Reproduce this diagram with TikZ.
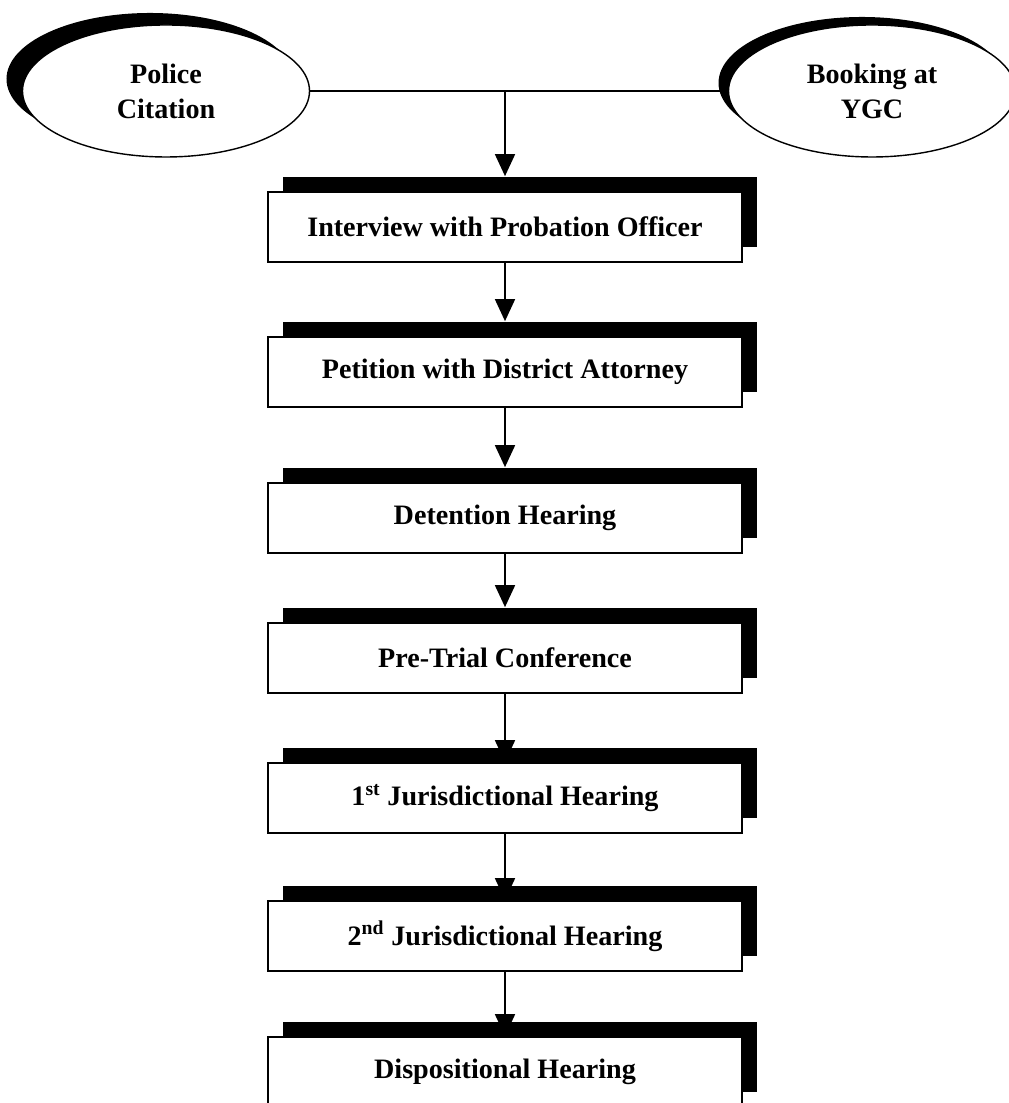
\documentclass[tikz,border=0pt]{standalone}
\usepackage{fontspec}
\setmainfont{Liberation Serif}
\usetikzlibrary{shapes.geometric,shadows,arrows.meta,backgrounds}

\tikzset{
  start/.style={ellipse, draw, line width=1pt, fill=white, align=center,
    minimum width=7.175cm, minimum height=3.3cm,
    font=\fontsize{20}{25}\selectfont\bfseries},
  stage/.style={rectangle, draw, line width=1.2pt, fill=white,
    minimum width=11.85cm, minimum height=1.75cm,
    font=\fontsize{20}{24}\selectfont\bfseries,
    general shadow={fill=black, shadow xshift=.375cm, shadow yshift=.375cm}},
  flow/.style={line width=1.2pt, -{Triangle[width=.5cm,length=.55cm]}}
}

\begin{document}
\begin{tikzpicture}
\useasboundingbox (0,0) rectangle (25.2,27.575);

% how a case comes in
\node[start, general shadow={fill=black, shadow xshift=-.4cm, shadow yshift=.3cm}] (police) at (4.15,25.3) {Police\\Citation};
\node[start, general shadow={fill=black, shadow xshift=-.25cm, shadow yshift=.2cm}] (booking) at (21.8,25.3) {Booking at\\YGC};
\coordinate (join) at (12.625,25.3);

% the court steps
\node[stage] (interview) at (12.625,21.9) {Interview with Probation Officer};
\node[stage] (petition) at (12.625,18.275) {Petition with District Attorney};
\node[stage] (detention) at (12.625,14.625) {Detention Hearing};
\node[stage] (pretrial) at (12.625,11.125) {Pre-Trial Conference};
\node[stage] (first) at (12.625,7.625) {1\textsuperscript{st} Jurisdictional Hearing};
\node[stage] (second) at (12.625,4.175) {2\textsuperscript{nd} Jurisdictional Hearing};
\node[stage] (disposition) at (12.625,0.775) {Dispositional Hearing};

\draw[line width=1.2pt] (police.east) -- (booking.west);
\begin{scope}[on background layer]
\draw[flow] (join) -- ([yshift=.375cm]interview.north);
\draw[flow] (interview.south) -- ([yshift=.375cm]petition.north);
\draw[flow] (petition.south) -- ([yshift=.375cm]detention.north);
\draw[flow] (detention.south) -- ([yshift=.375cm]pretrial.north);
%\draw[flow] (pretrial.south) -- ([yshift=.1cm]first.north);
\draw[flow] (pretrial.south) -- (first.north);
\draw[flow] (first.south) -- (second.north);
\draw[flow] (second.south) -- (disposition.north);
\end{scope}
\end{tikzpicture}
\end{document}
